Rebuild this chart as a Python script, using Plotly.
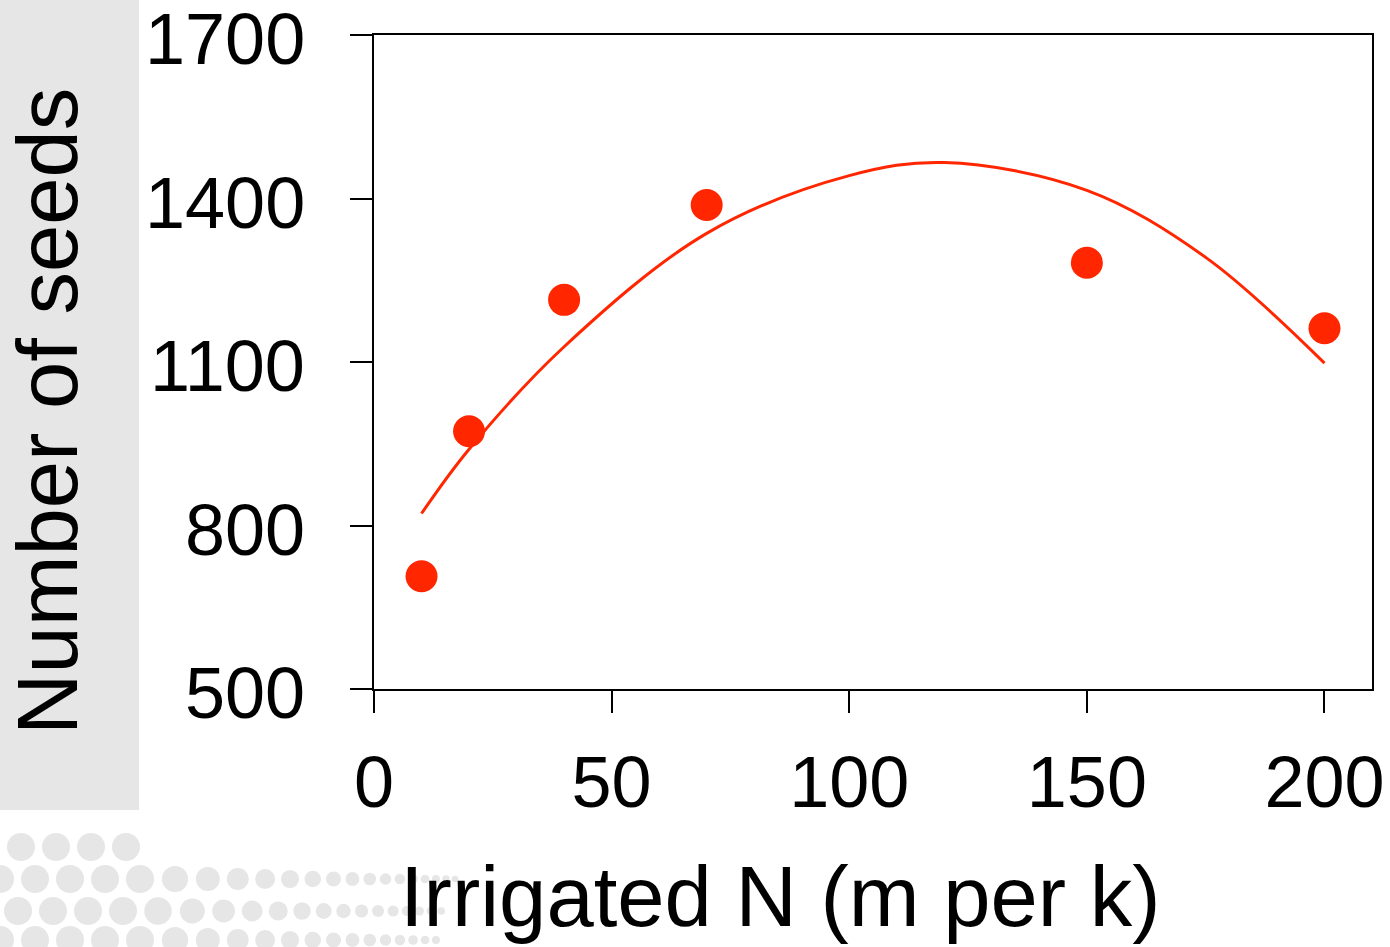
import plotly.graph_objects as go

# ---- data ----
n_rate = [10, 20, 40, 70, 150, 200]
seeds = [707, 973, 1214, 1388, 1282, 1162]

fit_x = [10, 20, 40, 70, 100, 120, 150, 175, 200]
fit_y = [822, 940, 1128, 1336, 1442, 1466, 1415, 1292, 1098]

x_ticks = [0, 50, 100, 150, 200]
y_ticks = [500, 800, 1100, 1400, 1700]
y_tick_labels = ["500", "800", "1100", "1400", "1700"]

W, H = 1390, 947
L, R, T, B = 374, 18, 35, 258
PW, PH = W - L - R, H - T - B

def px(xp):
    return (xp - L) / PW

def py(yp):
    return (H - B - yp) / PH

RED = "#ff2600"
GREY = "#e6e6e6"
FONT = "Liberation Sans, Arial, Helvetica, sans-serif"

fig = go.Figure()
fig.add_trace(go.Scatter(x=fit_x, y=fit_y, mode="lines",
                         line=dict(color=RED, width=3, shape="spline", smoothing=1.0),
                         hoverinfo="skip", showlegend=False))
fig.add_trace(go.Scatter(x=n_rate, y=seeds, mode="markers",
                         marker=dict(color=RED, size=32, line=dict(width=0)),
                         showlegend=False))

shapes = []
# grey band on the left
shapes.append(dict(type="rect", xref="paper", yref="paper",
                   x0=px(0), x1=px(139), y0=py(810), y1=py(-5),
                   fillcolor=GREY, line=dict(width=0), layer="below"))

# decorative dot pattern (slide template background)
def dot_size(x):
    return max(5.0, 28 - max(0.0, x - 150) * 0.07)

rows = [(847, 21, 135), (879, 0, 460), (911, 18, 445), (940, 0, 440)]
for yc, xc, xend in rows:
    while xc <= xend:
        d = dot_size(xc)
        r = d / 2
        shapes.append(dict(type="circle", xref="paper", yref="paper",
                           x0=px(xc - r), x1=px(xc + r), y0=py(yc + r), y1=py(yc - r),
                           fillcolor=GREY, line=dict(width=0), layer="below"))
        xc += d * 1.25

annotations = [
    dict(text="Number of seeds", xref="paper", yref="paper", x=px(47), y=py(412),
         textangle=-90, showarrow=False, xanchor="center", yanchor="middle",
         font=dict(size=85, color="black", family=FONT)),
    dict(text="Irrigated N (m per k)", xref="paper", yref="paper", x=px(780), y=py(896),
         showarrow=False, xanchor="center", yanchor="middle",
         font=dict(size=85, color="black", family=FONT)),
]
# y tick labels (sit slightly below their ticks, as in the reference)
for v, lab in zip(y_ticks, y_tick_labels):
    annotations.append(dict(text=lab, xref="paper", yref="y", x=px(307), y=v,
                            xanchor="right", yanchor="middle", yshift=-4, showarrow=False,
                            font=dict(size=72, color="black", family=FONT)))

fig.update_layout(
    width=W, height=H,
    margin=dict(l=L, r=R, t=T, b=B, pad=0, autoexpand=False),
    paper_bgcolor="white", plot_bgcolor="white",
    shapes=shapes, annotations=annotations,
    font=dict(family=FONT, color="black"),
)
fig.update_xaxes(range=[0, 210], tickvals=x_ticks, ticks="outside", ticklen=22, tickwidth=2,
                 tickcolor="black", showline=True, linecolor="black", linewidth=2, mirror=True,
                 showgrid=False, zeroline=False, tickfont=dict(size=72, family=FONT),
                 ticklabelstandoff=8, automargin=False, ticklabeloverflow="allow")
fig.update_yaxes(range=[500, 1700], tickvals=y_ticks, ticks="outside", ticklen=22, tickwidth=2,
                 tickcolor="black", showline=True, linecolor="black", linewidth=2, mirror=True,
                 showgrid=False, zeroline=False, showticklabels=False, automargin=False)

fig.write_html("out.html")
